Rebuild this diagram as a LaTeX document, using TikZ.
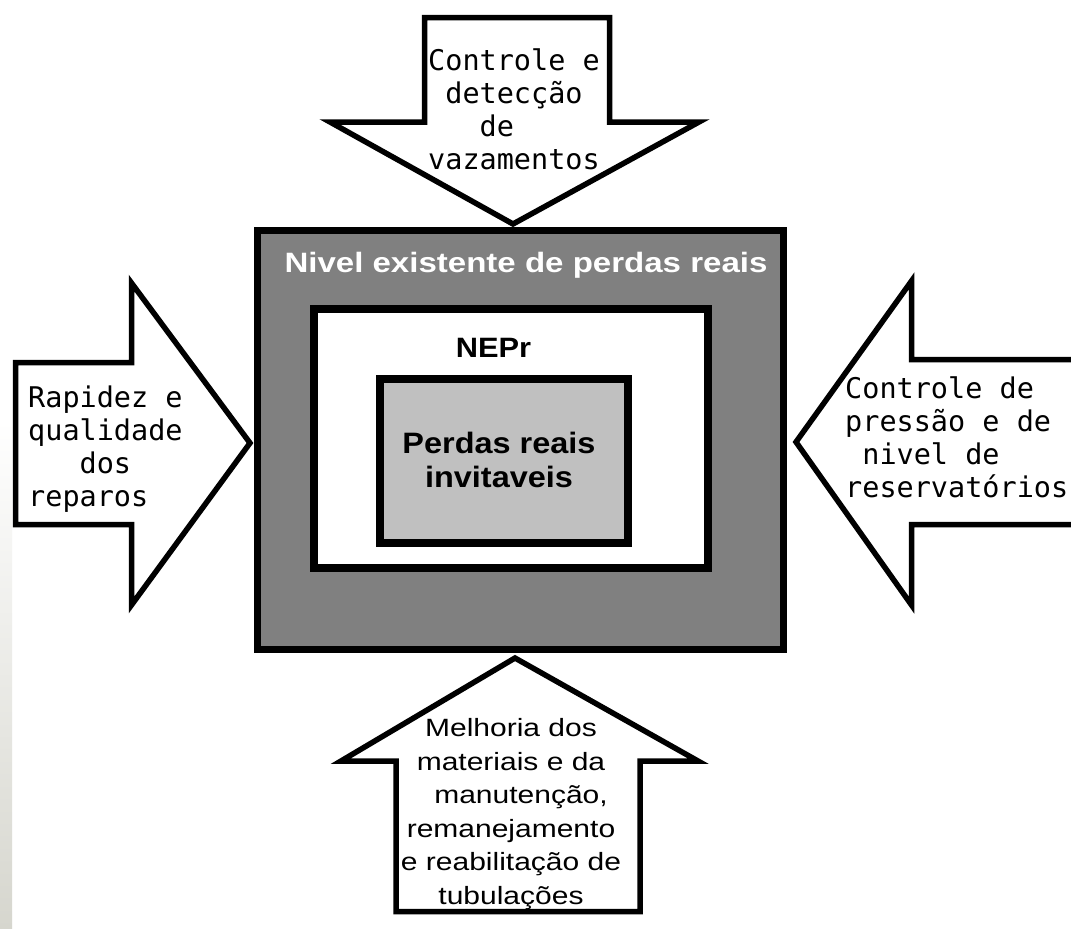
\documentclass[tikz,border=0pt]{standalone}
\usepackage{fontspec}
\setmainfont{Liberation Sans}
\newfontfamily\monofont{DejaVu Sans Mono}
\newfontfamily\stretchfont[FakeStretch=1.2]{Liberation Sans}
\newfontfamily\titlefont[FakeStretch=1.18]{Liberation Sans}
\newfontfamily\boxfont[FakeStretch=1.1]{Liberation Sans}
\definecolor{boxgray}{RGB}{128,128,128}
\definecolor{coregray}{RGB}{192,192,192}
\definecolor{leftgray}{RGB}{214,214,206}
\begin{document}
\begin{tikzpicture}[x=1pt,y=-1pt,
  blockarrow/.style={draw=black, line width=5.5pt, fill=white, line join=miter},
  boxframe/.style={draw=black, line width=8pt, inner sep=0pt},
  monotext/.style={anchor=base west, inner sep=0pt, align=left, font=\monofont\fontsize{28.5}{33}\selectfont},
  bottomtext/.style={anchor=base, inner sep=0pt, align=center, font=\stretchfont\fontsize{25}{33.5}\selectfont},
  boxtext/.style={anchor=base, inner sep=0pt, align=center, font=\boxfont\bfseries\fontsize{29.5}{34}\selectfont}
]
\clip (0,0) rectangle (1071,929);
\fill[white] (0,0) rectangle (1071,929);
\shade[top color=white, bottom color=leftgray] (0,420) rectangle (12,929);

% central boxes
\node[boxframe, line width=7pt, fill=boxgray, minimum width=526pt, minimum height=419pt] (outer) at (520.5,440) {};
\node[boxframe, fill=white, minimum width=394pt, minimum height=259pt] (middle) at (511,438.5) {};
\node[boxframe, fill=coregray, minimum width=248pt, minimum height=164pt] (core) at (504,461) {};

\node[font=\titlefont\bfseries\fontsize{28}{33}\selectfont, text=white, anchor=base, inner sep=0pt] (title) at (526,272) {Nivel existente de perdas reais};
\node[boxtext, font=\boxfont\bfseries\fontsize{28}{33}\selectfont] (nepr) at (493.5,357) {NEPr};
\node[boxtext] (coretext) at (499,487) {Perdas reais\\invitaveis};

% top arrow
\draw[blockarrow] (424.5,17.5) -- (609.5,17.5) -- (609.5,122) -- (699,122) -- (513,224) -- (330,122) -- (424.5,122) -- cycle;
\node[monotext] (toptext) at (428,169) {Controle e\\\phantom{x}detecção\\\phantom{xxx}de\\vazamentos};

% left arrow
\draw[blockarrow] (15.5,362.5) -- (131.5,362.5) -- (131.5,283) -- (250,443) -- (131.5,605) -- (131.5,524.5) -- (15.5,524.5) -- cycle;
\node[monotext] (lefttext) at (28,506) {Rapidez e\\qualidade\\\phantom{xxx}dos\\reparos};

% right arrow
\draw[blockarrow] (1090,359.5) -- (911.5,359.5) -- (911.5,281) -- (796,442) -- (911.5,605) -- (911.5,524.5) -- (1090,524.5);
\node[monotext] (righttext) at (845,497) {Controle de\\pressão e de\\\phantom{x}nivel de\\reservatórios};

% bottom arrow
\draw[blockarrow] (515,658) -- (698,761) -- (640,761) -- (640,911.5) -- (396,911.5) -- (396,761) -- (341,761) -- cycle;
\node[bottomtext] (bottomlabel) at (511,904) {Melhoria dos\\materiais e da\\\hspace*{20pt}manutenção,\\remanejamento\\e reabilitação de\\tubulações};
\end{tikzpicture}
\end{document}
